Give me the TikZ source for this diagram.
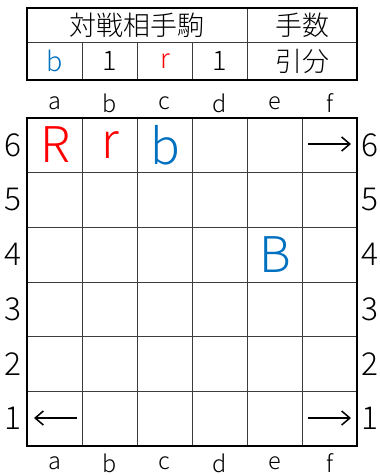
\documentclass[tikz,border=0pt]{standalone}
\usepackage{fontspec}
\setmainfont{Noto Sans CJK JP}[UprightFont=* Light]
\usepackage{tikz}
\usetikzlibrary{arrows.meta}
\definecolor{piece-blue}{RGB}{0,112,192}
\definecolor{piece-red}{RGB}{255,0,0}
\definecolor{grid-gray}{RGB}{60,60,60}

\begin{document}
\begin{tikzpicture}[x=0.03cm, y=-0.03cm,
    thin-line/.style={grid-gray, line width=0.7pt},
    frame-line/.style={black, line width=1.5pt},
    cell/.style={font=\fontsize{23}{23}\selectfont},
    piece/.style={font=\fontsize{42}{42}\selectfont},
    file-label/.style={font=\fontsize{20}{20}\selectfont},
    rank-label/.style={font=\fontsize{27}{27}\selectfont},
    move/.style={line width=1.3pt, -{Straight Barb[length=7pt,width=12pt]}}]
    \useasboundingbox (0,0) rectangle (379,475);
    % Captured pieces and move count
    \draw[thin-line] (27,42) -- (357,42);
    \foreach \x in {82,137,192} \draw[thin-line] (\x,42) -- (\x,80);
    \draw[thin-line] (247,8) -- (247,80);
    \draw[frame-line] (27,8) rectangle (357,80);
    \node[cell] (head-pieces) at (137,25) {対戦相手駒};
    \node[cell] (head-count) at (302,25) {手数};
    \node[cell, piece-blue] (cap-b) at (55,61) {b};
    \node[cell] (cap-b-num) at (110,61) {1};
    \node[cell, piece-red] (cap-r) at (165,61) {r};
    \node[cell] (cap-r-num) at (220,61) {1};
    \node[cell] (count) at (302,61) {引分};
    % Board
    \foreach \i in {1,...,5} {
        \draw[thin-line] (27+55*\i,118) -- (27+55*\i,446);
        \draw[thin-line] (27,118+54.67*\i) -- (357,118+54.67*\i);
    }
    \draw[frame-line] (27,118) rectangle (357,446);
    % File and rank labels
    \foreach \c [count=\i from 0] in {a,b,c,d,e,f} {
        \node[file-label] (top-\c) at (54.5+55*\i,103) {\c};
        \node[file-label] (bot-\c) at (54.5+55*\i,463) {\c};
    }
    \foreach \r in {1,...,6} {
        \node[rank-label] (left-\r) at (13,145.3+54.67*6-54.67*\r) {\r};
        \node[rank-label] (right-\r) at (370,145.3+54.67*6-54.67*\r) {\r};
    }
    % Pieces
    \node[piece, piece-red] (R-a6) at (55,145) {R};
    \node[piece, piece-red] (r-b6) at (110,145) {r};
    \node[piece, piece-blue] (b-c6) at (165,145) {b};
    \node[piece, piece-blue] (B-e4) at (275,255) {B};
    % Exit arrows
    \coordinate (f6-tail) at (308,144);
    \coordinate (f6-head) at (351,144);
    \coordinate (a1-tail) at (77,418);
    \coordinate (a1-head) at (34,418);
    \coordinate (f1-tail) at (308,418);
    \coordinate (f1-head) at (351,418);
    \draw[move] (f6-tail) -- (f6-head);
    \draw[move] (a1-tail) -- (a1-head);
    \draw[move] (f1-tail) -- (f1-head);
\end{tikzpicture}
\end{document}
